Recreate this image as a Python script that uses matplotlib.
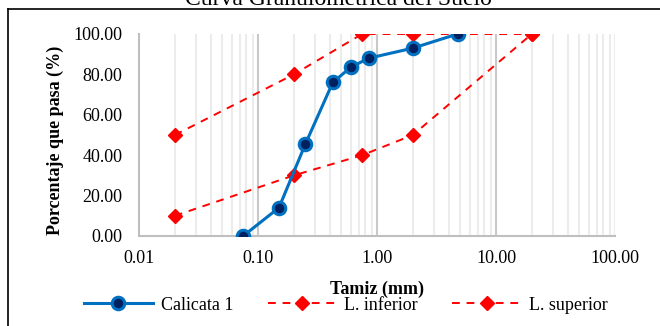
import matplotlib
matplotlib.use("Agg")
import matplotlib.pyplot as plt
from matplotlib.ticker import FixedLocator, FormatStrFormatter, NullFormatter
from matplotlib.lines import Line2D

plt.rcParams['font.family'] = ['Liberation Serif', 'DejaVu Serif']

# datos
tamiz_cal = [0.075, 0.15, 0.25, 0.425, 0.6, 0.85, 2.0, 4.75]
pasa_cal = [0.0, 14.0, 45.5, 76.0, 83.5, 88.0, 93.0, 100.0]

tamiz_inf = [0.02, 0.2, 0.75, 2.0, 20.0]
pasa_inf = [10.0, 30.0, 40.0, 50.0, 100.0]

tamiz_sup = [0.02, 0.2, 0.75, 2.0, 20.0]
pasa_sup = [50.0, 80.0, 100.0, 100.0, 100.0]

W, H = 660, 326
fig = plt.figure(figsize=(6.6, 3.26), dpi=100)
ax = fig.add_axes([139/W, 1-236/H, (615-139)/W, (236-34)/H])

ax.set_xscale('log')
ax.set_xlim(0.01, 100)
ax.set_ylim(0, 100)

# rejilla vertical
minors = [m * 10.0**e for e in range(-2, 2) for m in range(2, 10)]
for v in minors:
    ax.axvline(v, color='#ECECEC', lw=1.5, zorder=0)
for v in [0.1, 1, 10, 100]:
    ax.axvline(v, color='#C9C9C9' if v != 100 else '#ECECEC', lw=1.5, zorder=0)

ax.plot(tamiz_cal, pasa_cal, color='#0070C0', lw=2.2, marker='o', ms=9,
        mfc='#002060', mec='#0070C0', mew=2.2, zorder=4, label='Calicata 1')
ax.plot(tamiz_inf, pasa_inf, color='#FF0000', lw=1.4, ls=(0, (4, 3.5)), marker='D', ms=7,
        mfc='#FF0000', mec='#FF0000', zorder=3, label='L. inferior')
ax.plot(tamiz_sup, pasa_sup, color='#FF0000', lw=1.4, ls=(0, (4, 3.5)), marker='D', ms=7,
        mfc='#FF0000', mec='#FF0000', zorder=3, label='L. superior')

for s in ['top', 'right']:
    ax.spines[s].set_visible(False)
for s in ['left', 'bottom']:
    ax.spines[s].set_color('#BFBFBF')
    ax.spines[s].set_linewidth(1.5)

ax.yaxis.set_major_locator(FixedLocator([0, 20, 40, 60, 80, 100]))
ax.yaxis.set_major_formatter(FormatStrFormatter('%.2f'))
ax.xaxis.set_major_locator(FixedLocator([0.01, 0.1, 1, 10, 100]))
ax.xaxis.set_major_formatter(FormatStrFormatter('%.2f'))
ax.xaxis.set_minor_formatter(NullFormatter())
ax.tick_params(axis='both', which='both', length=0, labelsize=13)
ax.tick_params(axis='y', pad=12)
ax.tick_params(axis='x', pad=10)

fig.text(55/W, 1-140/H, 'Porcentaje que pasa (%)', fontsize=13, fontweight='bold',
         rotation=90, ha='center', va='center')
fig.text(377/W, 1-289/H, 'Tamiz (mm)', fontsize=13, fontweight='bold',
         ha='center', va='center')

fig.text(338/W, 1-5/H, 'Curva Granulométrica del Suelo', fontsize=17,
         ha='center', va='baseline')

# marco del gráfico
fig.add_artist(Line2D([8/W, 1.0], [1-9/H, 1-9/H], transform=fig.transFigure,
                      color='black', lw=1.2))
fig.add_artist(Line2D([8/W, 8/W], [0.0, 1-9/H], transform=fig.transFigure,
                      color='black', lw=1.2))

fig.legend(loc='center', bbox_to_anchor=(346/W, 1-305/H), ncol=3, frameon=False,
           fontsize=13, handlelength=3.8, handletextpad=0.45, columnspacing=1.9)

fig.savefig('out.png', dpi=100)
